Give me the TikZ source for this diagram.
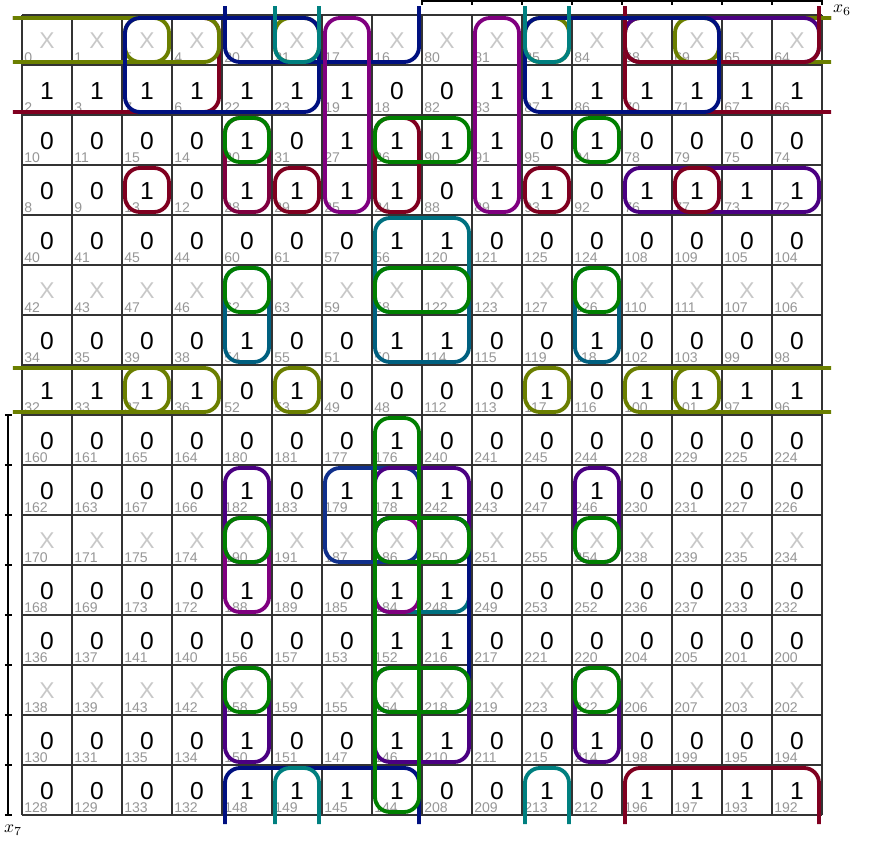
\documentclass[tikz,border=0pt]{standalone}
\usepackage{fontspec}
\newfontfamily\kfont{Liberation Sans}

\definecolor{kolive}{RGB}{107,127,0}
\definecolor{knavy}{RGB}{0,16,128}
\definecolor{kteal}{RGB}{0,128,128}
\definecolor{kpurple}{RGB}{128,0,128}
\definecolor{kmaroon}{RGB}{128,0,32}
\definecolor{kcrimson}{RGB}{128,0,64}
\definecolor{kgreen}{RGB}{0,128,0}
\definecolor{kindigo}{RGB}{75,0,130}
\definecolor{ksteel}{RGB}{0,96,128}
\definecolor{kcyan}{RGB}{0,112,128}
\definecolor{kslate}{RGB}{16,48,140}
\definecolor{xgray}{RGB}{200,200,200}
\definecolor{ngray}{RGB}{150,150,150}

% column codes of the map, left to right
\def\colcodes{{0,1,5,4,20,21,17,16,80,81,85,84,68,69,65,64}}
\def\dd{0.06}
\def\ov{0.18}

% closed loop: colour, c1, r1, c2, r2
\newcommand{\kloop}[5]{\draw[grp,#1] (#2+\dd,#3+\dd) rectangle (#4+1-\dd,#5+1-\dd);}
% loops open at one edge of the map
\newcommand{\opentop}[4]{\draw[grp,#1] (#2+\dd,-\ov) -- (#2+\dd,#4+1-\dd) -- (#3+1-\dd,#4+1-\dd) -- (#3+1-\dd,-\ov);}
\newcommand{\openbot}[4]{\draw[grp,#1] (#2+\dd,16+\ov) -- (#2+\dd,#4+\dd) -- (#3+1-\dd,#4+\dd) -- (#3+1-\dd,16+\ov);}
\newcommand{\openleft}[4]{\draw[grp,#1] (-\ov,#2+\dd) -- (#4+1-\dd,#2+\dd) -- (#4+1-\dd,#3+1-\dd) -- (-\ov,#3+1-\dd);}
\newcommand{\openright}[4]{\draw[grp,#1] (16+\ov,#2+\dd) -- (#4+\dd,#2+\dd) -- (#4+\dd,#3+1-\dd) -- (16+\ov,#3+1-\dd);}

\begin{document}
\begin{tikzpicture}[x=1cm, y=-1cm,
    gridline/.style={draw=black!80, line width=1pt},
    grp/.style={line width=2.2pt, rounded corners=0.3cm},
    kval/.style={inner sep=0pt, font=\kfont\fontsize{14}{14}\selectfont},
    val X/.style={text=xgray, font=\kfont\fontsize{13}{13}\selectfont},
    val 0/.style={text=black},
    val 1/.style={text=black},
    knum/.style={inner sep=0pt, anchor=base west, text=ngray, font=\kfont\fontsize{8}{8}\selectfont},
    varbar/.style={line width=1pt}]
    \useasboundingbox (-0.44,-0.3) rectangle (17.16,16.7);

    % Grid
    \draw[gridline] (0,0) grid (16,16);

    % Cells: row, row code, values
    \foreach \r/\rc/\vals in {
        0/0/{X,X,X,X,X,X,X,X,X,X,X,X,X,X,X,X},
        1/2/{1,1,1,1,1,1,1,0,0,1,1,1,1,1,1,1},
        2/10/{0,0,0,0,1,0,1,1,1,1,0,1,0,0,0,0},
        3/8/{0,0,1,0,1,1,1,1,0,1,1,0,1,1,1,1},
        4/40/{0,0,0,0,0,0,0,1,1,0,0,0,0,0,0,0},
        5/42/{X,X,X,X,X,X,X,X,X,X,X,X,X,X,X,X},
        6/34/{0,0,0,0,1,0,0,1,1,0,0,1,0,0,0,0},
        7/32/{1,1,1,1,0,1,0,0,0,0,1,0,1,1,1,1},
        8/160/{0,0,0,0,0,0,0,1,0,0,0,0,0,0,0,0},
        9/162/{0,0,0,0,1,0,1,1,1,0,0,1,0,0,0,0},
        10/170/{X,X,X,X,X,X,X,X,X,X,X,X,X,X,X,X},
        11/168/{0,0,0,0,1,0,0,1,1,0,0,0,0,0,0,0},
        12/136/{0,0,0,0,0,0,0,1,1,0,0,0,0,0,0,0},
        13/138/{X,X,X,X,X,X,X,X,X,X,X,X,X,X,X,X},
        14/130/{0,0,0,0,1,0,0,1,1,0,0,1,0,0,0,0},
        15/128/{0,0,0,0,1,1,1,1,0,0,1,0,1,1,1,1}}{
        \foreach \v [count=\c from 0] in \vals {
            \pgfmathtruncatemacro\cellno{\colcodes[\c]+\rc}
            \node[kval, val \v] (v\c-\r) at (\c+0.5,\r+0.52) {\v};
            \node[knum] (n\c-\r) at (\c+0.04,\r+0.95) {\cellno};
        }
    }

    % Variable bars
    \draw[varbar] (8,-0.28) -- (16,-0.28);
    \foreach \i in {8,...,16} {\draw[varbar] (\i,-0.34) -- (\i,-0.2);}
    \node[inner sep=0pt] (x6) at (16.4,-0.1) {$x_6$};
    \draw[varbar] (-0.28,8) -- (-0.28,16);
    \foreach \i in {8,...,16} {\draw[varbar] (-0.34,\i) -- (-0.2,\i);}
    \node (x7) at (-0.18,16.3) {$x_7$};

    % Loops
    \openleft{kmaroon}{0}{1}{3}
    \openright{kmaroon}{0}{1}{12}
    \openleft{kolive}{0}{0}{3}
    \openright{kolive}{0}{0}{12}
    \openleft{kolive}{7}{7}{3}
    \openright{kolive}{7}{7}{12}
    \foreach \c in {2,5,10,13} {
        \kloop{kolive}{\c}{0}{\c}{0}
        \kloop{kolive}{\c}{7}{\c}{7}
    }
    \kloop{kindigo}{12}{0}{15}{0}
    \kloop{kindigo}{12}{3}{15}{3}
    \opentop{kmaroon}{12}{15}{0}
    \openbot{kmaroon}{12}{15}{15}
    \kloop{knavy}{2}{0}{5}{1}
    \kloop{knavy}{10}{0}{13}{1}
    \opentop{knavy}{4}{7}{0}
    \openbot{knavy}{4}{7}{15}
    \opentop{kteal}{5}{5}{0}
    \opentop{kteal}{10}{10}{0}
    \openbot{kteal}{5}{5}{15}
    \openbot{kteal}{10}{10}{15}
    \kloop{kpurple}{6}{0}{6}{3}
    \kloop{kpurple}{9}{0}{9}{3}
    \foreach \c in {2,5,10,13} {\kloop{kmaroon}{\c}{3}{\c}{3}}
    \kloop{kcrimson}{4}{2}{4}{3}
    \kloop{kmaroon}{7}{2}{7}{3}
    \kloop{kcyan}{7}{4}{8}{5}
    \kloop{kcyan}{7}{10}{8}{11}
    \kloop{ksteel}{7}{5}{8}{6}
    \kloop{ksteel}{4}{5}{4}{6}
    \kloop{ksteel}{11}{5}{11}{6}
    \kloop{kslate}{6}{9}{7}{10}
    \kloop{knavy}{7}{10}{8}{13}
    \foreach \r in {9,13} {
        \kloop{kindigo}{4}{\r}{4}{\r+1}
        \kloop{kindigo}{7}{\r}{8}{\r+1}
        \kloop{kindigo}{11}{\r}{11}{\r+1}
    }
    \kloop{kpurple}{4}{10}{4}{11}
    \kloop{kpurple}{7}{10}{7}{11}
    \kloop{kgreen}{7}{8}{7}{15}
    \foreach \r in {2,5,10,13} {
        \kloop{kgreen}{4}{\r}{4}{\r}
        \kloop{kgreen}{7}{\r}{8}{\r}
        \kloop{kgreen}{11}{\r}{11}{\r}
    }
\end{tikzpicture}
\end{document}
